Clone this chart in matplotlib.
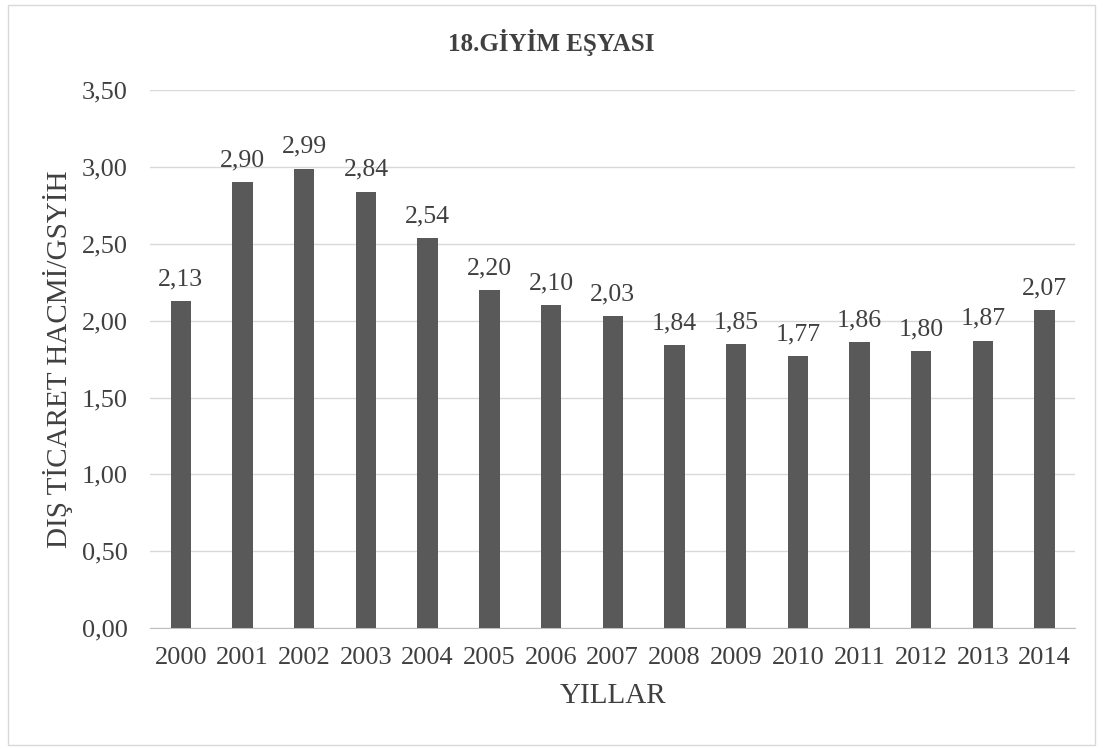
import matplotlib.pyplot as plt
from matplotlib.patches import Rectangle

years = ['2000', '2001', '2002', '2003', '2004', '2005', '2006', '2007',
         '2008', '2009', '2010', '2011', '2012', '2013', '2014']
values = [2.13, 2.90, 2.99, 2.84, 2.54, 2.20, 2.10, 2.03,
          1.84, 1.85, 1.77, 1.86, 1.80, 1.87, 2.07]
yticks = [0.0, 0.5, 1.0, 1.5, 2.0, 2.5, 3.0, 3.5]

plt.rcParams['font.family'] = ['Liberation Serif', 'DejaVu Serif']

fig = plt.figure(figsize=(11.03, 7.49), dpi=100)
ax = fig.add_axes([0.136, 0.1615, 0.839, 0.718])

x = range(len(years))
ax.bar(x, values, width=0.33, color='#595959', zorder=3)
for i, v in enumerate(values):
    ax.text(i, v + 0.07, f'{v:.2f}'.replace('.', ','), ha='center', va='bottom',
            fontsize=18.5, color='#404040')

ax.set_xlim(-0.5, len(years) - 0.5)
ax.set_ylim(0, 3.5)
ax.set_yticks(yticks)
ax.set_yticklabels([f'{t:.2f}'.replace('.', ',') for t in yticks])
ax.set_xticks(list(x))
ax.set_xticklabels(years)
ax.tick_params(axis='both', length=0, labelsize=19, colors='#404040')
ax.tick_params(axis='x', pad=14)
ax.tick_params(axis='y', pad=16)
ax.grid(axis='y', color='#d9d9d9', linewidth=1, zorder=0)
for s in ['top', 'right', 'left']:
    ax.spines[s].set_visible(False)
ax.spines['bottom'].set_color('#bfbfbf')

ax.set_xlabel('YILLAR', fontsize=21, color='#404040', labelpad=10)
ax.set_ylabel('DIŞ TİCARET HACMİ/GSYİH', fontsize=21, color='#404040')
ax.yaxis.set_label_coords(-0.083, 0.5)
fig.text(0.5, 0.943, '18.GİYİM EŞYASI', ha='center', va='center',
         fontsize=18, fontweight='bold', color='#404040')

fig.patches.append(Rectangle((0.007, 0.005), 0.986, 0.988, transform=fig.transFigure,
                             fill=False, edgecolor='#d9d9d9', linewidth=1))

fig.savefig('out.png', dpi=100)
